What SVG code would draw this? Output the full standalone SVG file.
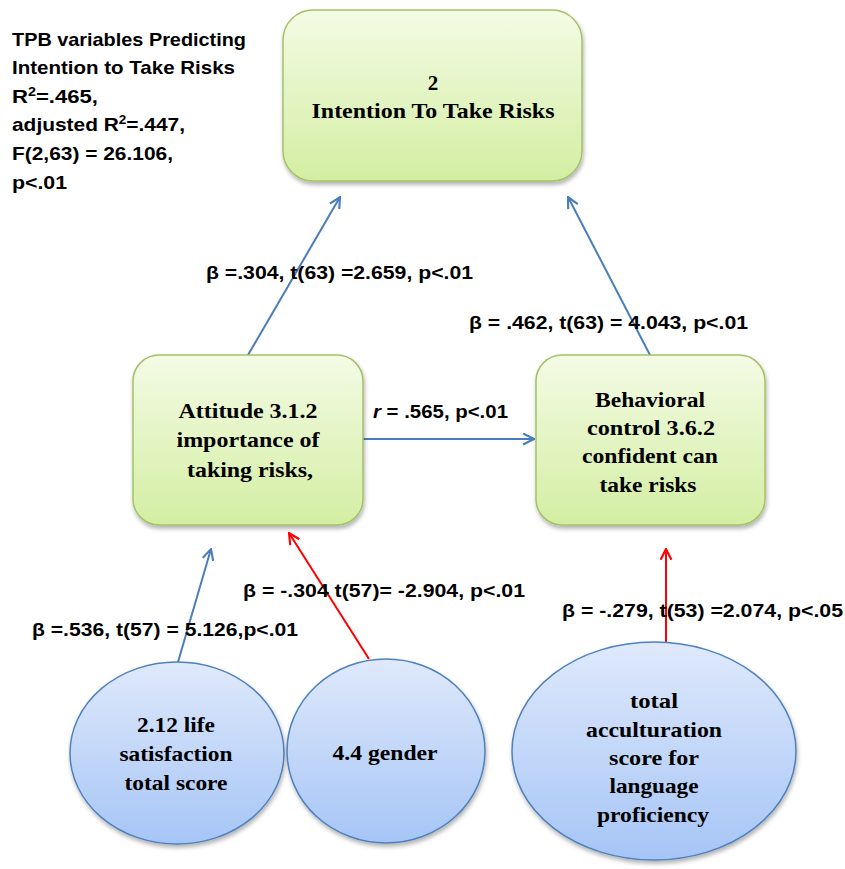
<svg xmlns="http://www.w3.org/2000/svg" width="845" height="869" viewBox="0 0 845 869">
  <defs>
    <linearGradient id="boxFill" x1="0" y1="0" x2="0" y2="1">
      <stop offset="0" stop-color="#F4FBE5"/>
      <stop offset="1" stop-color="#D3EEA2"/>
    </linearGradient>
    <linearGradient id="ovalFill" x1="0" y1="0" x2="0" y2="1">
      <stop offset="0" stop-color="#DFE9FB"/>
      <stop offset="1" stop-color="#A6C5F6"/>
    </linearGradient>
    <filter id="shadow" x="-10%" y="-10%" width="125%" height="130%">
      <feDropShadow dx="1" dy="3" stdDeviation="2" flood-color="#000" flood-opacity="0.3"/>
    </filter>
    <marker id="headBlue" viewBox="0 0 12 12" refX="11" refY="6" markerWidth="13" markerHeight="13" markerUnits="userSpaceOnUse" orient="auto">
      <path d="M1,1 L11,6 L1,11" fill="none" stroke="#4A7EBB" stroke-width="2"/>
    </marker>
    <marker id="headRed" viewBox="0 0 12 12" refX="11" refY="6" markerWidth="13" markerHeight="13" markerUnits="userSpaceOnUse" orient="auto">
      <path d="M1,1 L11,6 L1,11" fill="none" stroke="#FF0000" stroke-width="2"/>
    </marker>
  </defs>
  <style>
    .box { fill: url(#boxFill); stroke: #A2C267; stroke-width: 1.5; filter: url(#shadow); }
    .oval { fill: url(#ovalFill); stroke: #4F81BD; stroke-width: 1.5; filter: url(#shadow); }
    .node { font-family: "Liberation Serif", "Times New Roman", serif; font-weight: bold; font-size: 21px; fill: #000; text-anchor: middle; }
    .lbl { font-family: "Liberation Sans", Arial, sans-serif; font-weight: bold; font-size: 18.5px; fill: #000; }
    .blue { stroke: #4A7EBB; stroke-width: 2; fill: none; marker-end: url(#headBlue); }
    .red { stroke: #FF0000; stroke-width: 2; fill: none; marker-end: url(#headRed); }
  </style>

  <rect width="845" height="869" fill="#FFFFFF"/>

  <!-- model summary -->
  <g id="summary" class="lbl">
    <text x="12" y="46" textLength="234" lengthAdjust="spacingAndGlyphs">TPB variables Predicting</text>
    <text x="12" y="74" textLength="223" lengthAdjust="spacingAndGlyphs">Intention to Take Risks</text>
    <text x="12" y="103" textLength="86" lengthAdjust="spacingAndGlyphs">R<tspan dy="-7" font-size="12">2</tspan><tspan dy="7">=.465,</tspan></text>
    <text x="12" y="131" textLength="173" lengthAdjust="spacingAndGlyphs">adjusted R<tspan dy="-7" font-size="12">2</tspan><tspan dy="7">=.447,</tspan></text>
    <text x="12" y="160" textLength="161" lengthAdjust="spacingAndGlyphs">F(2,63) = 26.106,</text>
    <text x="12" y="189" textLength="55" lengthAdjust="spacingAndGlyphs">p&lt;.01</text>
  </g>

  <!-- connectors -->
  <g id="connectors">
    <line class="blue" x1="248" y1="355" x2="340" y2="197"/>
    <line class="blue" x1="650" y1="355" x2="568" y2="197"/>
    <line class="blue" x1="363" y1="439" x2="534" y2="439"/>
    <line class="blue" x1="178" y1="662" x2="211" y2="549"/>
    <line class="red" x1="369" y1="659" x2="289" y2="533"/>
    <line class="red" x1="666" y1="642" x2="666" y2="549"/>
  </g>

  <!-- connector labels -->
  <g id="labels" class="lbl">
    <text x="206" y="279" textLength="267" lengthAdjust="spacingAndGlyphs">β =.304, t(63) =2.659, p&lt;.01</text>
    <text x="469" y="329" textLength="279" lengthAdjust="spacingAndGlyphs">β = .462, t(63) = 4.043, p&lt;.01</text>
    <text x="373" y="418" textLength="135" lengthAdjust="spacingAndGlyphs"><tspan font-style="italic">r</tspan> = .565, p&lt;.01</text>
    <text x="243" y="597" textLength="282" lengthAdjust="spacingAndGlyphs">β = -.304 t(57)= -2.904, p&lt;.01</text>
    <text x="32" y="636" textLength="266" lengthAdjust="spacingAndGlyphs">β =.536, t(57) = 5.126,p&lt;.01</text>
    <text x="562" y="617" textLength="281" lengthAdjust="spacingAndGlyphs">β = -.279, t(53) =2.074, p&lt;.05</text>
  </g>

  <g id="intention">
    <rect class="box" x="283" y="10" width="299" height="171" rx="30"/>
    <text class="node" x="433" y="90">2</text>
    <text class="node" x="433" y="118" textLength="243" lengthAdjust="spacingAndGlyphs">Intention To Take Risks</text>
  </g>

  <g id="attitude">
    <rect class="box" x="133" y="355" width="230" height="170" rx="26"/>
    <text class="node" x="248" y="418" textLength="139" lengthAdjust="spacingAndGlyphs">Attitude 3.1.2</text>
    <text class="node" x="248" y="447" textLength="143" lengthAdjust="spacingAndGlyphs">importance of</text>
    <text class="node" x="250" y="477" textLength="126" lengthAdjust="spacingAndGlyphs">taking risks,</text>
  </g>

  <g id="behavioral">
    <rect class="box" x="536" y="355" width="229" height="170" rx="26"/>
    <text class="node" x="650" y="407" textLength="110" lengthAdjust="spacingAndGlyphs">Behavioral</text>
    <text class="node" x="651" y="435" textLength="128" lengthAdjust="spacingAndGlyphs">control 3.6.2</text>
    <text class="node" x="650" y="463" textLength="136" lengthAdjust="spacingAndGlyphs">confident can</text>
    <text class="node" x="648" y="492" textLength="97" lengthAdjust="spacingAndGlyphs">take risks</text>
  </g>

  <g id="life">
    <ellipse class="oval" cx="177" cy="753" rx="107" ry="91"/>
    <text class="node" x="176" y="732" textLength="78" lengthAdjust="spacingAndGlyphs">2.12 life</text>
    <text class="node" x="176" y="761" textLength="113" lengthAdjust="spacingAndGlyphs">satisfaction</text>
    <text class="node" x="176" y="790" textLength="103" lengthAdjust="spacingAndGlyphs">total score</text>
  </g>

  <g id="gender">
    <ellipse class="oval" cx="386" cy="751" rx="99" ry="92"/>
    <text class="node" x="385" y="760" textLength="105" lengthAdjust="spacingAndGlyphs">4.4 gender</text>
  </g>

  <g id="acculturation">
    <ellipse class="oval" cx="654" cy="751" rx="142" ry="109"/>
    <text class="node" x="654" y="708" textLength="48" lengthAdjust="spacingAndGlyphs">total</text>
    <text class="node" x="654" y="737" textLength="136" lengthAdjust="spacingAndGlyphs">acculturation</text>
    <text class="node" x="654" y="765" textLength="90" lengthAdjust="spacingAndGlyphs">score for</text>
    <text class="node" x="654" y="793" textLength="89" lengthAdjust="spacingAndGlyphs">language</text>
    <text class="node" x="653" y="822" textLength="112" lengthAdjust="spacingAndGlyphs">proficiency</text>
  </g>
</svg>
